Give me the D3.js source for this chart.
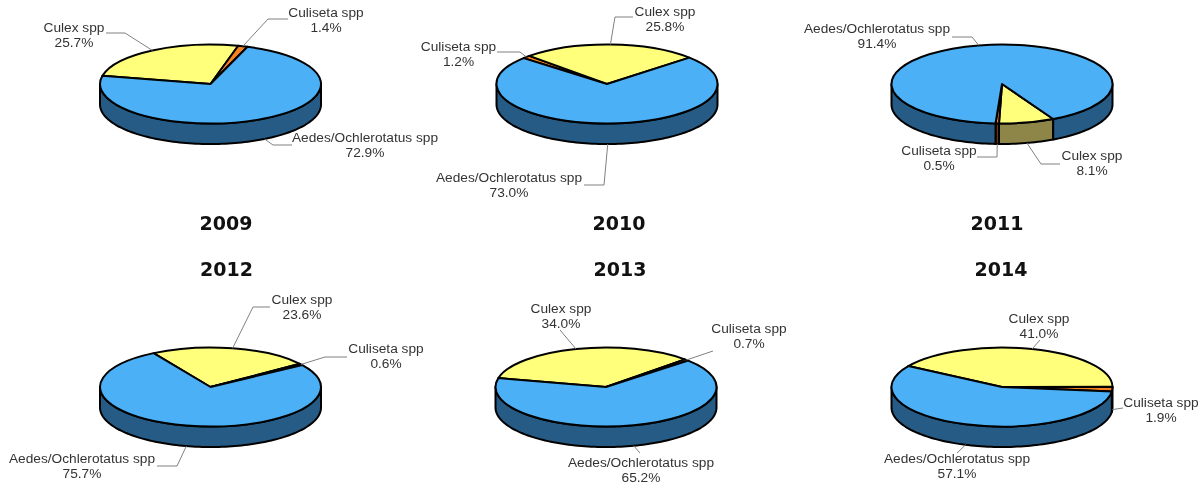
<!DOCTYPE html>
<html><head><meta charset="utf-8">
<script src="https://cdn.jsdelivr.net/npm/d3@7/dist/d3.min.js"></script>
<style>html,body{margin:0;padding:0;background:#fff}svg{display:block;filter:blur(0.45px)}</style>
</head><body><svg id="c" width="1203" height="484"></svg>
<script>
// ---- data ----
const years = ["2009","2010","2011","2012","2013","2014"];
const aedes    = [72.9,73.0,91.4,75.7,65.2,57.1];
const culex    = [25.7,25.8, 8.1,23.6,34.0,41.0];
const culiseta = [ 1.4, 1.2, 0.5, 0.6, 0.7, 1.9];
const seriesNames = {aedes:"Aedes/Ochlerotatus spp", culex:"Culex spp", culiseta:"Culiseta spp"};
// clockwise slice order within each pie
const sliceOrder = [
  ["culex","culiseta","aedes"],["culiseta","culex","aedes"],["culex","culiseta","aedes"],
  ["culex","culiseta","aedes"],["culex","culiseta","aedes"],["culex","culiseta","aedes"]];
// ---- layout ----
const firstAngle = [282,311,152.4,-31,-77,-58];
const centres = [[210.5,84],[607,84],[1002,84],[210.5,387],[606,387],[1002,387]];
const titlePos = [[226,230],[619,230],[997,230],[226.5,276],[620,276],[1001,276]];
const RX=110.5, RY=39.5, DEPTH=20.5;
const topColor={aedes:"#4bb0f6",culex:"#ffff7c",culiseta:"#f5821f"};
const wallColor={aedes:"#255b85",culex:"#8d8648",culiseta:"#6e3410"};
// label: centre x, first baseline y, leader start, optional elbow
const labels = [
 {culex:[74,32,[106,33],[125,33]],culiseta:[326,17,[288,19],[268,19]],aedes:[365,142,[292,145],[273,145]]},
 {culex:[665,16,[633,17],[615,17]],culiseta:[458.5,51,[497,52],[520,52]],aedes:[509,182,[584,185],[604,185]]},
 {aedes:[877,33,[952,37],[972,37]],culiseta:[939,155,[977,157],[997,157]],culex:[1092,160,[1060,164],[1041,164]]},
 {culex:[302,304,[270,307],[253,307]],culiseta:[386,353,[347,357],[325,357]],aedes:[82,463,[157,466],[177,466]]},
 {culex:[561,313,[560,330],null],culiseta:[749,333,[713,351],null],aedes:[641,467,[640,453],null]},
 {culex:[1039,323,[1040,340],null],culiseta:[1161,407,[1123,408],null],aedes:[957,463,[957,453],null]}];

const svg=d3.select("#c");
const rad=d=>d*Math.PI/180;
const arc=d3.arc().innerRadius(0).outerRadius(RX);
const sx=a=>RX*Math.sin(a), sy=a=>-RY*Math.cos(a);
const line=d3.line();
const vals={aedes,culex,culiseta};

years.forEach((year,i)=>{
  const [cx,cy]=centres[i];
  const pieData=d3.pie().sort(null).value(k=>vals[k][i])
     .startAngle(rad(firstAngle[i])).endAngle(rad(firstAngle[i])+2*Math.PI)(sliceOrder[i]);
  const g=svg.append("g").attr("transform",`translate(${cx},${cy})`);
  // side wall: visible part of each slice (angle between 90 and 270 deg, mod 360)
  pieData.forEach(s=>{
    [0,2*Math.PI,-2*Math.PI].forEach(shift=>{
      const a0=Math.max(s.startAngle+shift,Math.PI/2), a1=Math.min(s.endAngle+shift,1.5*Math.PI);
      if(a1<=a0) return;
      const n=Math.max(2,Math.ceil((a1-a0)/0.03));
      const as=d3.range(n+1).map(j=>a0+(a1-a0)*j/n);
      const top=as.map(a=>[sx(a),sy(a)]);
      const bot=as.slice().reverse().map(a=>[sx(a),sy(a)+DEPTH]);
      g.append("path").attr("d",line(top.concat(bot))+"Z")
       .attr("fill",wallColor[s.data]).attr("stroke","#000").attr("stroke-width",2)
       .attr("stroke-linejoin","round");
    });
  });
  // top face
  const t=g.append("g").attr("transform",`scale(1,${RY/RX})`);
  t.selectAll("path").data(pieData).join("path").attr("d",arc)
   .attr("fill",d=>topColor[d.data]).attr("stroke","#000").attr("stroke-width",2)
   .attr("stroke-linejoin","round").attr("vector-effect","non-scaling-stroke");
  // leaders and labels
  pieData.forEach(s=>{
    const L=labels[i][s.data];
    const mid=(s.startAngle+s.endAngle)/2;
    const low=Math.cos(mid)<0;
    const rim=[cx+sx(mid),cy+sy(mid)+(low?DEPTH:0)];
    const pts=[L[2]].concat(L[3]?[L[3]]:[]).concat([rim]);
    svg.append("path").attr("d",line(pts)).attr("fill","none").attr("stroke","#808080").attr("stroke-width",1);
    const tx=svg.append("text").attr("x",L[0]).attr("y",L[1]).attr("text-anchor","middle")
      .attr("font-family","Liberation Sans, Arial, sans-serif").attr("font-size",13.7).attr("fill","#333");
    tx.append("tspan").attr("x",L[0]).text(seriesNames[s.data]);
    tx.append("tspan").attr("x",L[0]).attr("dy",14.7).text(vals[s.data][i].toFixed(1)+"%");
  });
  svg.append("text").attr("x",titlePos[i][0]).attr("y",titlePos[i][1]).attr("text-anchor","middle")
    .attr("font-family","DejaVu Sans, Verdana, sans-serif").attr("font-weight","bold")
    .attr("font-size",19).attr("fill","#111").text(year);
});
</script></body></html>
